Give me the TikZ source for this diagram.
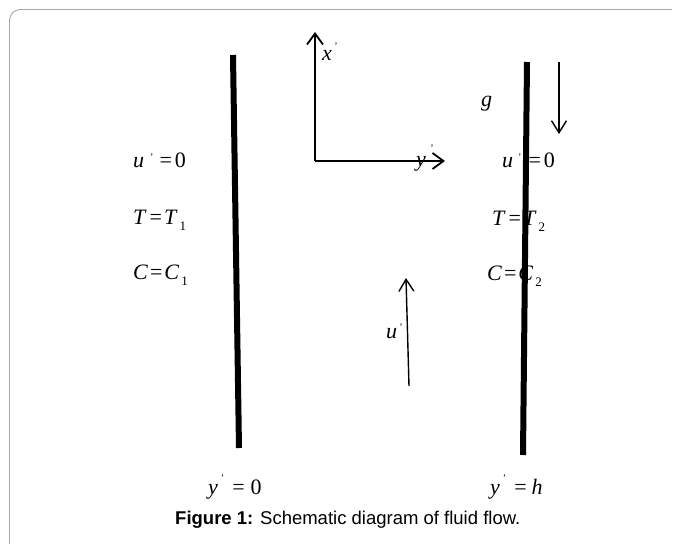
\documentclass[tikz,border=0pt]{standalone}
\usepackage{fontspec}
\setmainfont{Liberation Serif}
\newfontfamily\capfont{Liberation Sans}
\usetikzlibrary{arrows.meta}
\newcommand{\pr}{\raisebox{0.3em}{\fontsize{10}{10}\selectfont ’}}
\newcommand{\hpr}{\raisebox{0.55em}{\fontsize{10}{10}\selectfont ’}}
\newcommand{\sbs}[1]{\raisebox{-6pt}{\fontsize{13}{13}\selectfont #1}}
\begin{document}
\begin{tikzpicture}[x=1pt,y=-1pt,
  lab/.style={inner sep=0pt,anchor=base west,font=\fontsize{22}{24}\selectfont},
  prm/.style={inner sep=0pt,font=\fontsize{10}{10}\selectfont},
  wall/.style={line width=6pt,black},
  axis/.style={line width=1.8pt,-{Straight Barb[length=11pt,width=16pt,line width=1.8pt]}},
  thinarrow/.style={line width=1.4pt,-{Straight Barb[length=12pt,width=15pt,line width=1.4pt]}},
  frame/.style={draw=black!35,line width=0.9pt,rounded corners=11pt}]
\useasboundingbox (0,0) rectangle (681,544);
% frame (top and left edges)
\draw[frame] (9.5,544) -- (9.5,9.5) -- (672,9.5);
% axes
\coordinate (o) at (315,161);
\coordinate (xt) at (315,32);
\coordinate (yt) at (445,161);
\draw[axis] (o) -- (xt);
\draw[axis] (o) -- (yt);
\node[lab] (xl) at (322,60) {\textit{x}};
\node[prm] (xp) at (336,46) {’};
\node[lab] (yl) at (416,166) {\textit{y}};
\node[prm] (yp) at (432,148) {’};
% gravity
\coordinate (g1) at (559,62);
\coordinate (g2) at (559,134);
\draw[thinarrow] (g1) -- (g2);
\node[lab] (g) at (481,106) {\textit{g}};
% flow arrow
\coordinate (f1) at (409,386);
\coordinate (f2) at (406,278);
\draw[thinarrow] (f1) -- (f2);
\node[lab] (ul) at (386,338) {\textit{u}};
\node[prm] (up) at (401,327) {’};
% left boundary conditions
\node[lab] (u1) at (133,167) {\textit{u}\hspace{6pt}\pr\hspace{6pt}=\hspace{3pt}0};
\node[lab] (t1) at (133,224) {\textit{T}\hspace{3pt}=\hspace{2pt}\textit{T}\hspace{2pt}\sbs{1}};
\node[lab] (c1) at (133,279) {\textit{C}\hspace{2pt}=\hspace{2pt}\textit{C}\hspace{2pt}\sbs{1}};
% right boundary conditions
\node[lab] (u2) at (502,167) {\textit{u}\hspace{5pt}\pr\hspace{7pt}=\hspace{3pt}0};
\node[lab] (t2) at (492,225) {\textit{T}\hspace{3pt}=\hspace{2pt}\textit{T}\hspace{2pt}\sbs{2}};
\node[lab] (c2) at (487,280) {\textit{C}\hspace{2pt}=\hspace{2pt}\textit{C}\hspace{2pt}\sbs{2}};
% bottom labels
\node[lab] (y0) at (208,494) {\textit{y}\hspace{3pt}\hpr\hspace{8pt}=\hspace{6pt}0};
\node[lab] (yh) at (490,494) {\textit{y}\hspace{3pt}\hpr\hspace{8pt}=\hspace{5pt}\textit{h}};
% walls
\coordinate (w1a) at (233,55);
\coordinate (w1b) at (239,448);
\coordinate (w2a) at (527,62);
\coordinate (w2b) at (523,455);
\draw[wall] (w1a) -- (w1b);
\draw[wall] (w2a) -- (w2b);
% caption
\node[inner sep=0pt,anchor=base west,font=\capfont\fontsize{18.5}{20}\selectfont] (cap) at (175,524) {\textbf{Figure 1:} Schematic diagram of fluid flow.};
\end{tikzpicture}
\end{document}
